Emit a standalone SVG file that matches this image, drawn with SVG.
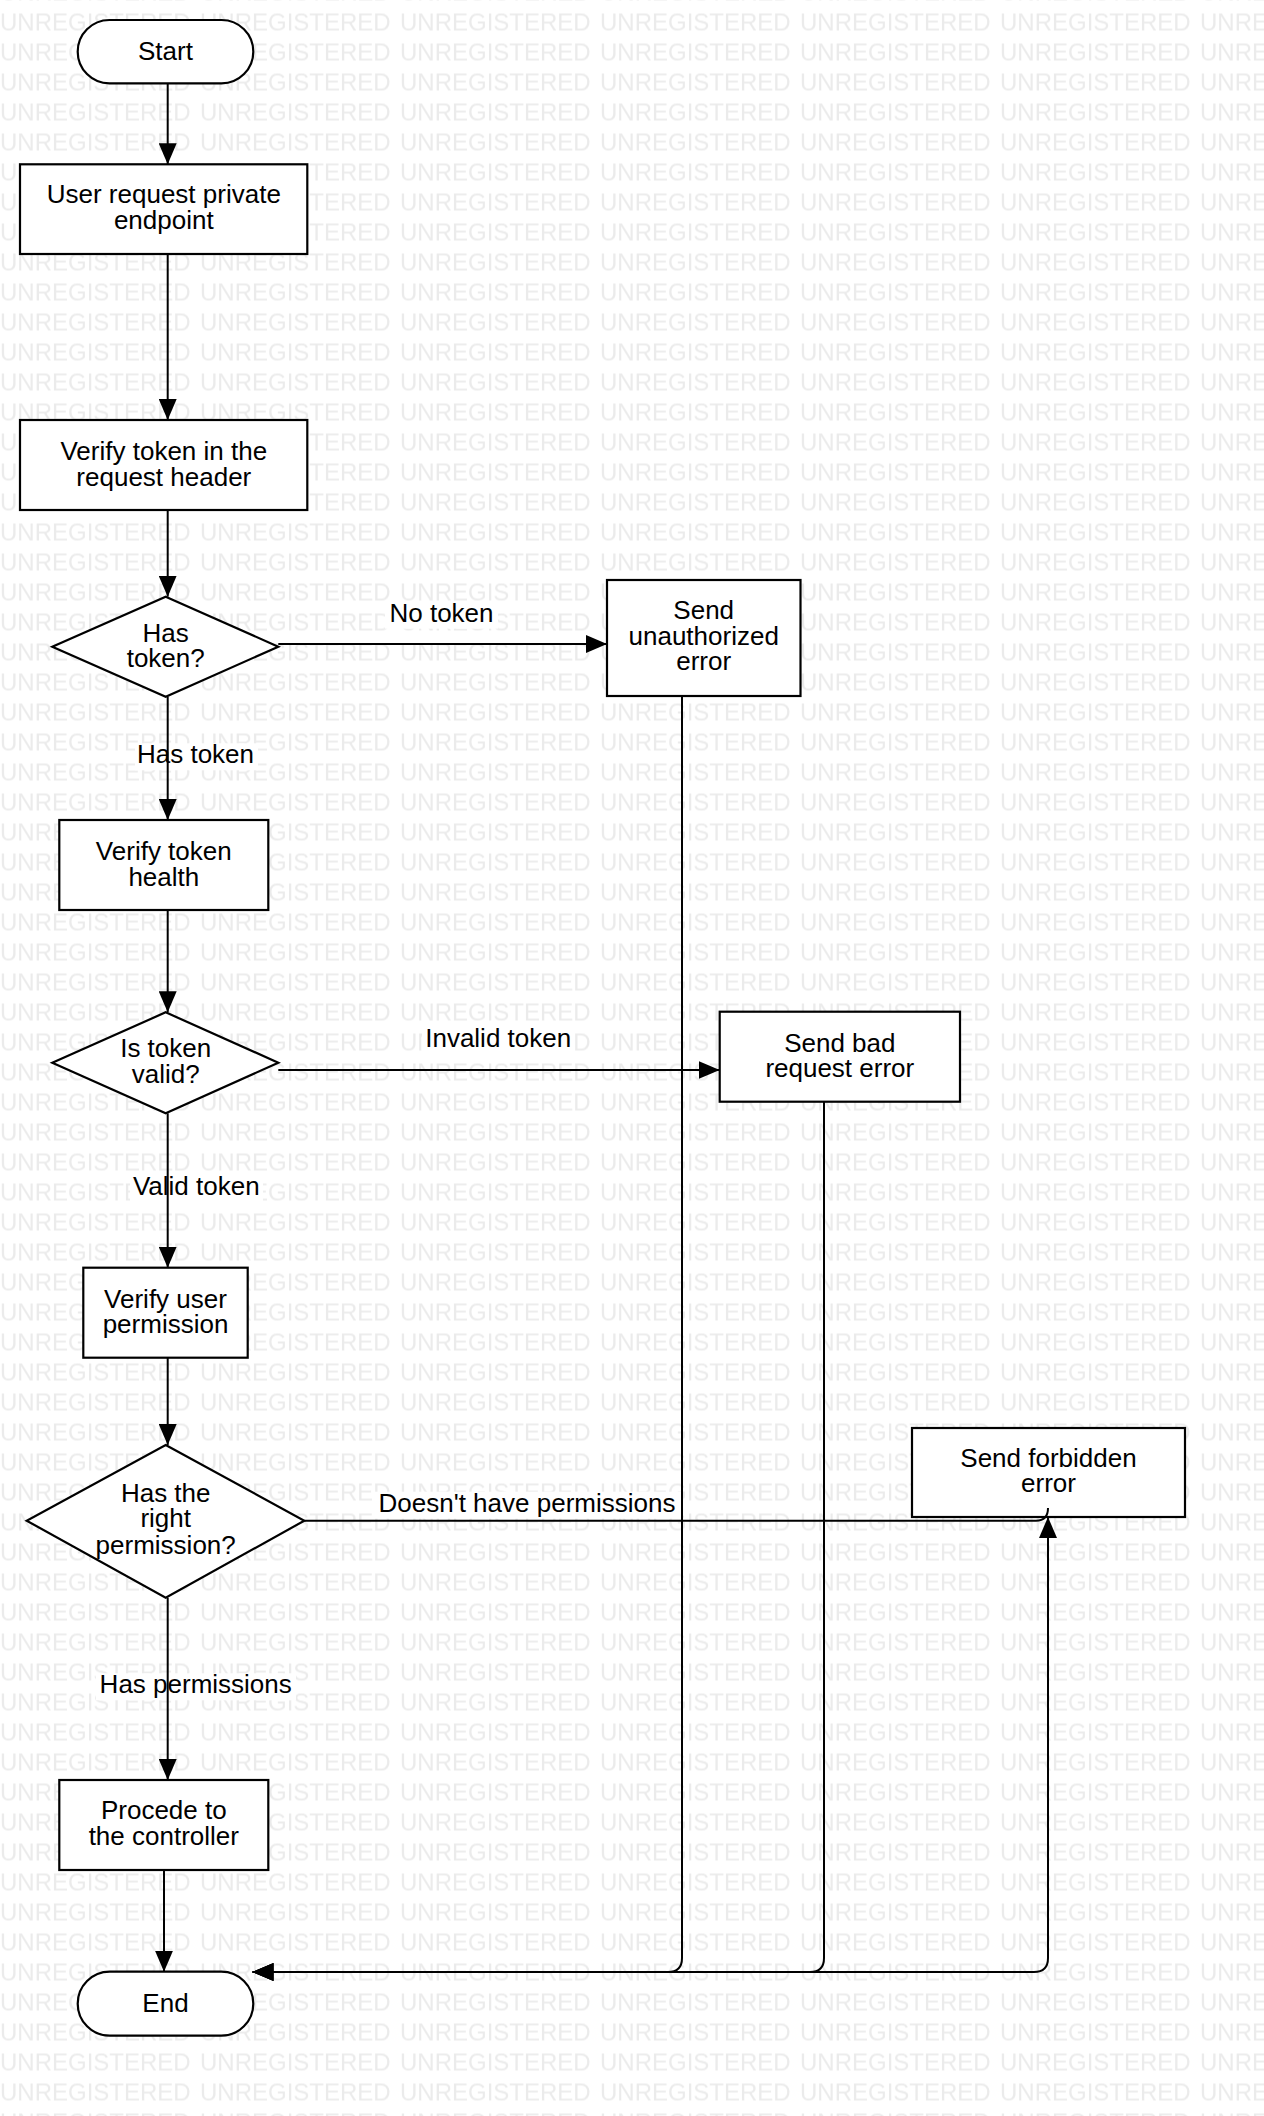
<svg xmlns="http://www.w3.org/2000/svg" width="1264" height="2116" viewBox="0 0 1264 2116">
  <defs>
    <!-- repeating grey background lettering -->
    <pattern id="wm" patternUnits="userSpaceOnUse" x="0" y="6.5" width="200" height="30">
      <text x="0" y="24" class="wm">UNREGISTERED</text>
    </pattern>
    <marker id="arrow" markerUnits="userSpaceOnUse" viewBox="0 0 21 18" refX="21" refY="9" markerWidth="21" markerHeight="18" orient="auto-start-reverse">
      <path d="M0,0 L21,9 L0,18 Z" fill="#000"/>
    </marker>
  </defs>
  <style>
    .wm { font-family: "Liberation Sans", Arial, sans-serif; font-size: 24px; fill: #ebebeb; }
    .node rect, .node path { fill: #fff; stroke: #000; stroke-width: 2.2; }
    .node text, .label text { font-family: "Liberation Sans", Arial, sans-serif; font-size: 26px; fill: #000; text-anchor: middle; }
    .conn { fill: none; stroke: #000; stroke-width: 2; }
    .bg { fill: #fff; }
  </style>

  <rect x="0" y="0" width="1264" height="2116" fill="#fff"/>
  <rect x="0" y="0" width="1264" height="2116" fill="url(#wm)"/>

  <!-- nodes -->
  <g id="start" class="node">
    <rect x="77.7" y="20" width="175.6" height="63.3" rx="31.7" ry="31.7"/>
    <text x="165.5" y="60">Start</text>
  </g>
  <g id="user-request" class="node">
    <rect x="20" y="164.3" width="287.3" height="89.7"/>
    <text x="163.8" y="203.3">User request private</text>
    <text x="163.8" y="229.3">endpoint</text>
  </g>
  <g id="verify-header" class="node">
    <rect x="20" y="420" width="287.3" height="90"/>
    <text x="163.8" y="460">Verify token in the</text>
    <text x="163.8" y="486">request header</text>
  </g>
  <g id="has-token" class="node">
    <path d="M165.7,596.7 L278.3,646.7 L165.7,696.7 L52.3,646.7 Z"/>
    <text x="165.7" y="641.7">Has</text>
    <text x="165.7" y="667.3">token?</text>
  </g>
  <g id="send-unauthorized" class="node">
    <rect x="607" y="580" width="193.5" height="116"/>
    <text x="703.7" y="619.3">Send</text>
    <text x="703.7" y="645">unauthorized</text>
    <text x="703.7" y="670">error</text>
  </g>
  <g id="verify-health" class="node">
    <rect x="59.3" y="820" width="209" height="90"/>
    <text x="163.8" y="860">Verify token</text>
    <text x="163.8" y="886">health</text>
  </g>
  <g id="token-valid" class="node">
    <path d="M165.7,1012.3 L278.3,1062.7 L165.7,1113.3 L52.3,1062.7 Z"/>
    <text x="165.7" y="1057.3">Is token</text>
    <text x="165.7" y="1083.3">valid?</text>
  </g>
  <g id="send-bad-request" class="node">
    <rect x="719.7" y="1011.7" width="240.3" height="90"/>
    <text x="839.8" y="1051.7">Send bad</text>
    <text x="839.8" y="1076.7">request error</text>
  </g>
  <g id="verify-permission" class="node">
    <rect x="83.3" y="1267.7" width="164.4" height="90"/>
    <text x="165.5" y="1307.7">Verify user</text>
    <text x="165.5" y="1333.3">permission</text>
  </g>
  <g id="has-permission" class="node">
    <path d="M165.7,1445 L304.3,1520.7 L165.7,1597.7 L26.7,1520.7 Z"/>
    <text x="165.7" y="1502.3">Has the</text>
    <text x="165.7" y="1527.3">right</text>
    <text x="165.7" y="1554">permission?</text>
  </g>
  <g id="send-forbidden" class="node">
    <rect x="912" y="1428" width="273" height="89"/>
    <text x="1048.5" y="1467.3">Send forbidden</text>
    <text x="1048.5" y="1492.3">error</text>
  </g>
  <g id="procede" class="node">
    <rect x="59.3" y="1780" width="209" height="90"/>
    <text x="163.8" y="1819">Procede to</text>
    <text x="163.8" y="1845">the controller</text>
  </g>
  <g id="end" class="node">
    <rect x="77.7" y="1971.7" width="175.6" height="64" rx="32" ry="32"/>
    <text x="165.5" y="2011.7">End</text>
  </g>

  <!-- connectors and their labels -->
  <g id="connectors">
    <g class="label-bgs">
      <rect class="bg" x="385" y="601.7" width="113" height="27"/>
      <rect class="bg" x="135" y="743.3" width="123" height="27"/>
      <rect class="bg" x="422" y="1026.7" width="153" height="27"/>
      <rect class="bg" x="130" y="1175" width="133" height="27"/>
      <rect class="bg" x="372" y="1491.7" width="310" height="27"/>
      <rect class="bg" x="96" y="1673.3" width="200" height="27"/>
    </g>

    <path class="conn" d="M167.7,83.3 V164.3" marker-end="url(#arrow)"/>
    <path class="conn" d="M167.7,254 V420" marker-end="url(#arrow)"/>
    <path class="conn" d="M167.7,510 V596.7" marker-end="url(#arrow)"/>
    <path class="conn" d="M278.3,644 H607" marker-end="url(#arrow)"/>
    <path class="conn" d="M167.7,696.7 V820" marker-end="url(#arrow)"/>
    <path class="conn" d="M167.7,910 V1012.3" marker-end="url(#arrow)"/>
    <path class="conn" d="M278.3,1070 H719.7" marker-end="url(#arrow)"/>
    <path class="conn" d="M167.7,1113.3 V1267.7" marker-end="url(#arrow)"/>
    <path class="conn" d="M167.7,1357.7 V1445" marker-end="url(#arrow)"/>
    <path class="conn" d="M304.3,1520.7 H1036 Q1048,1520.7 1048,1508"/>
    <path class="conn" d="M167.7,1597.7 V1780" marker-end="url(#arrow)"/>
    <path class="conn" d="M164,1870 V1971.7" marker-end="url(#arrow)"/>

    <!-- error branches merging into End -->
    <path class="conn" d="M682,696 V1958 Q682,1972 668,1972 H252.5" marker-end="url(#arrow)"/>
    <path class="conn" d="M824,1101.7 V1958 Q824,1972 810,1972 H252.5" marker-end="url(#arrow)"/>
    <path class="conn" d="M1048,1517 V1958 Q1048,1972 1034,1972 H252.5" marker-start="url(#arrow)" marker-end="url(#arrow)"/>

    <g class="label">
      <text x="441.5" y="621.7">No token</text>
      <text x="195.5" y="763.3">Has token</text>
      <text x="498.2" y="1046.7">Invalid token</text>
      <text x="196.3" y="1195">Valid token</text>
      <text x="527" y="1511.7">Doesn't have permissions</text>
      <text x="195.7" y="1693.3">Has permissions</text>
    </g>
  </g>
</svg>
